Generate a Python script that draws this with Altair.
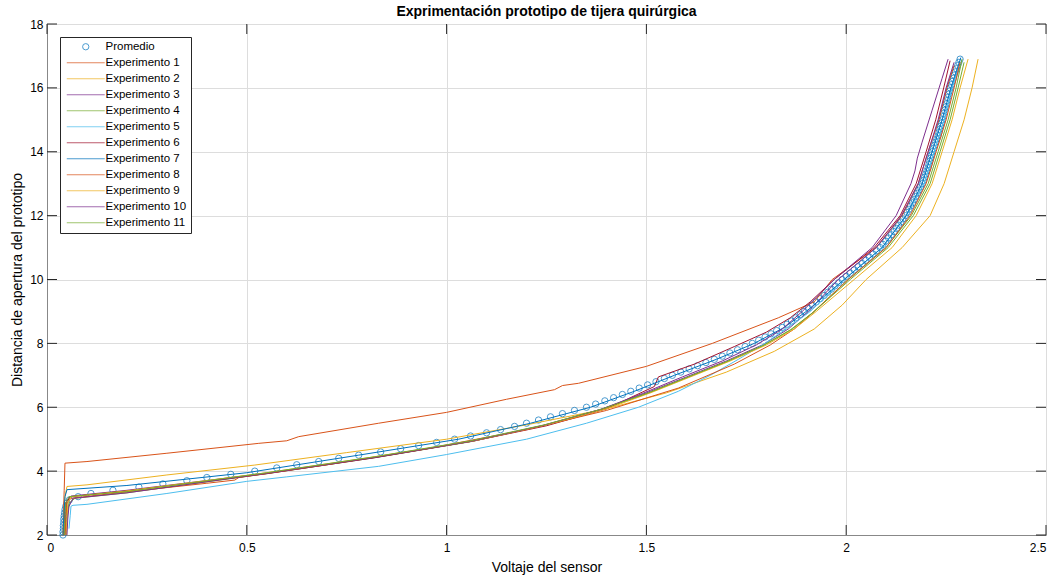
import altair as alt
import pandas as pd

# ---------------- data ----------------
series_names = ["Promedio"] + [f"Experimento {i}" for i in range(1, 12)]
series_colors = ["#0072BD", "#D95319", "#EDB120", "#7E2F8E", "#77AC30", "#4DBEEE",
                 "#A2142F", "#0072BD", "#D95319", "#EDB120", "#7E2F8E", "#77AC30"]

x_ticks = [0, 0.5, 1, 1.5, 2, 2.5]
y_ticks = [2, 4, 6, 8, 10, 12, 14, 16, 18]

prom_d = [2.0, 2.1, 2.2, 2.3, 2.4, 2.5, 2.6, 2.7, 2.8, 2.9,
          3.0, 3.1, 3.2, 3.3, 3.4, 3.5, 3.6, 3.7, 3.8, 3.9,
          4.0, 4.1, 4.2, 4.3, 4.4, 4.5, 4.6, 4.7, 4.8, 4.9,
          5.0, 5.1, 5.2, 5.3, 5.4, 5.5, 5.6, 5.7, 5.8, 5.9,
          6.0, 6.1, 6.2, 6.3, 6.4, 6.5, 6.6, 6.7, 6.8, 6.9,
          7.0, 7.1, 7.2, 7.3, 7.4, 7.5, 7.6, 7.7, 7.8, 7.9,
          8.0, 8.1, 8.2, 8.3, 8.4, 8.5, 8.6, 8.7, 8.8, 8.9,
          9.0, 9.1, 9.2, 9.3, 9.4, 9.5, 9.6, 9.7, 9.8, 9.9,
          10.0, 10.1, 10.2, 10.3, 10.4, 10.5, 10.6, 10.7, 10.8, 10.9,
          11.0, 11.1, 11.2, 11.3, 11.4, 11.5, 11.6, 11.7, 11.8, 11.9,
          12.0, 12.1, 12.2, 12.3, 12.4, 12.5, 12.6, 12.7, 12.8, 12.9,
          13.0, 13.1, 13.2, 13.3, 13.4, 13.5, 13.6, 13.7, 13.8, 13.9,
          14.0, 14.1, 14.2, 14.3, 14.4, 14.5, 14.6, 14.7, 14.8, 14.9,
          15.0, 15.1, 15.2, 15.3, 15.4, 15.5, 15.6, 15.7, 15.8, 15.9,
          16.0, 16.1, 16.2, 16.3, 16.4, 16.5, 16.6, 16.7, 16.8, 16.9]
prom_v = [0.040, 0.040, 0.041, 0.041, 0.042, 0.042, 0.043, 0.044, 0.045, 0.047,
          0.050, 0.056, 0.078, 0.110, 0.165, 0.230, 0.290, 0.350, 0.400, 0.460,
          0.520, 0.575, 0.625, 0.680, 0.730, 0.780, 0.835, 0.885, 0.930, 0.975,
          1.020, 1.060, 1.100, 1.135, 1.170, 1.200, 1.230, 1.260, 1.290, 1.320,
          1.350, 1.373, 1.396, 1.418, 1.440, 1.461, 1.482, 1.503, 1.524, 1.545,
          1.565, 1.586, 1.607, 1.628, 1.649, 1.670, 1.690, 1.709, 1.728, 1.747,
          1.765, 1.781, 1.797, 1.812, 1.826, 1.840, 1.852, 1.863, 1.874, 1.885,
          1.895, 1.905, 1.915, 1.925, 1.935, 1.945, 1.954, 1.963, 1.972, 1.981,
          1.990, 2.000, 2.010, 2.020, 2.030, 2.040, 2.049, 2.058, 2.067, 2.076,
          2.085, 2.092, 2.099, 2.106, 2.113, 2.120, 2.126, 2.131, 2.137, 2.142,
          2.148, 2.152, 2.157, 2.161, 2.166, 2.170, 2.174, 2.178, 2.182, 2.186,
          2.190, 2.193, 2.196, 2.199, 2.202, 2.205, 2.207, 2.209, 2.211, 2.213,
          2.215, 2.218, 2.221, 2.224, 2.227, 2.230, 2.232, 2.234, 2.236, 2.238,
          2.240, 2.242, 2.244, 2.246, 2.248, 2.250, 2.252, 2.254, 2.256, 2.258,
          2.260, 2.263, 2.265, 2.268, 2.270, 2.273, 2.276, 2.279, 2.282, 2.285]

exp1_v = [0.040, 0.041, 0.043, 0.045, 0.10, 0.30, 0.53, 0.60, 0.63, 0.83, 1.00, 1.15, 1.27, 1.29,
          1.33, 1.50, 1.665, 1.83, 1.92, 1.965, 2.075, 2.14, 2.18, 2.205, 2.232, 2.252, 2.27]
exp1_d = [2.0, 2.6, 3.4, 4.25, 4.3, 4.56, 4.87, 4.95, 5.08, 5.5, 5.84, 6.25, 6.55, 6.68,
          6.75, 7.28, 8.0, 8.8, 9.3, 10.0, 11.0, 12.0, 13.0, 14.0, 15.0, 16.0, 16.7]

exp2_v = [0.040, 0.042, 0.045, 0.05, 0.10, 0.30, 0.52, 0.75, 1.00, 1.20, 1.40, 1.55, 1.70, 1.82,
          1.92, 1.99, 2.05, 2.14, 2.21, 2.245, 2.27, 2.295, 2.315, 2.33]
exp2_d = [2.0, 2.6, 3.2, 3.52, 3.57, 3.88, 4.19, 4.58, 5.0, 5.45, 5.95, 6.45, 7.1, 7.75,
          8.45, 9.2, 10.0, 11.0, 12.0, 13.0, 14.0, 15.0, 16.0, 16.9]

exp3_v = [0.045, 0.047, 0.05, 0.06, 0.2, 0.56, 0.83, 1.07, 1.25, 1.39, 1.50, 1.60, 1.70, 1.79,
          1.855, 1.905, 1.98, 2.075, 2.138, 2.18, 2.205, 2.23, 2.25, 2.27]
exp3_d = [2.0, 2.7, 3.1, 3.22, 3.4, 3.95, 4.45, 4.95, 5.45, 5.95, 6.45, 6.95, 7.45, 7.95,
          8.45, 9.0, 10.0, 11.0, 12.0, 13.0, 14.0, 15.0, 16.0, 16.8]

exp4_v = [0.048, 0.05, 0.055, 0.07, 0.2, 0.55, 0.82, 1.06, 1.24, 1.385, 1.50, 1.60, 1.70, 1.79,
          1.86, 1.915, 2.005, 2.10, 2.163, 2.205, 2.23, 2.255, 2.275, 2.29]
exp4_d = [2.0, 2.5, 3.0, 3.15, 3.32, 3.92, 4.42, 4.92, 5.42, 5.92, 6.42, 6.92, 7.42, 7.92,
          8.42, 8.95, 10.0, 11.0, 12.0, 13.0, 14.0, 15.0, 16.0, 16.9]

exp5_v = [0.055, 0.058, 0.06, 0.065, 0.10, 0.30, 0.50, 0.60, 0.83, 1.00, 1.20, 1.35, 1.48, 1.58,
          1.66, 1.73, 1.79, 1.85, 1.91, 1.995, 2.09, 2.15, 2.195, 2.22, 2.245, 2.265, 2.285]
exp5_d = [2.2, 2.6, 2.9, 2.93, 2.96, 3.3, 3.68, 3.82, 4.15, 4.52, 5.0, 5.5, 6.0, 6.5,
          7.0, 7.5, 7.95, 8.45, 9.0, 10.0, 11.0, 12.0, 13.0, 14.0, 15.0, 16.0, 16.8]

exp6_v = [0.042, 0.044, 0.046, 0.06, 0.2, 0.55, 0.82, 1.07, 1.25, 1.40, 1.52, 1.53, 1.62, 1.72,
          1.80, 1.86, 1.91, 1.97, 2.07, 2.135, 2.175, 2.2, 2.224, 2.244, 2.26]
exp6_d = [2.0, 2.6, 3.0, 3.2, 3.38, 3.92, 4.42, 4.95, 5.42, 5.95, 6.65, 6.95, 7.35, 7.9,
          8.35, 8.8, 9.3, 10.0, 11.0, 12.0, 13.0, 14.0, 15.0, 16.0, 16.85]

exp7_v = [0.040, 0.042, 0.045, 0.05, 0.2, 0.5, 0.78, 1.03, 1.21, 1.36, 1.47, 1.57, 1.675, 1.77,
          1.845, 1.90, 1.995, 2.09, 2.15, 2.19, 2.215, 2.24, 2.262, 2.287]
exp7_d = [2.0, 2.6, 3.2, 3.42, 3.55, 3.95, 4.5, 5.0, 5.5, 6.0, 6.5, 7.0, 7.5, 8.0,
          8.5, 9.0, 10.0, 11.0, 12.0, 13.0, 14.0, 15.0, 16.0, 16.95]

exp8_v = [0.045, 0.048, 0.05, 0.06, 0.2, 0.4, 0.47, 0.48, 0.7, 0.95, 1.2, 1.4, 1.58, 1.72,
          1.81, 1.87, 1.92, 2.005, 2.10, 2.16, 2.20, 2.225, 2.25, 2.27, 2.285]
exp8_d = [2.0, 2.6, 3.0, 3.15, 3.35, 3.62, 3.72, 3.8, 4.2, 4.7, 5.3, 5.9, 6.6, 7.35,
          7.95, 8.45, 9.0, 10.0, 11.0, 12.0, 13.0, 14.0, 15.0, 16.0, 16.8]

exp9_v = [0.048, 0.05, 0.052, 0.06, 0.2, 0.55, 0.82, 1.07, 1.25, 1.40, 1.51, 1.61, 1.71, 1.80,
          1.87, 1.925, 2.02, 2.115, 2.175, 2.215, 2.24, 2.265, 2.285, 2.305]
exp9_d = [2.0, 2.5, 3.0, 3.2, 3.38, 3.95, 4.45, 4.95, 5.45, 5.95, 6.45, 6.95, 7.45, 7.95,
          8.45, 9.0, 10.0, 11.0, 12.0, 13.0, 14.0, 15.0, 16.0, 16.9]

exp10_v = [0.05, 0.052, 0.055, 0.065, 0.2, 0.55, 0.82, 1.06, 1.24, 1.385, 1.49, 1.59, 1.69, 1.775,
           1.84, 1.89, 1.97, 2.065, 2.125, 2.162, 2.172, 2.178, 2.19, 2.215, 2.24, 2.255]
exp10_d = [2.0, 2.5, 2.9, 3.15, 3.32, 3.93, 4.43, 4.93, 5.43, 5.93, 6.43, 6.95, 7.45, 7.95,
           8.45, 9.0, 10.0, 11.0, 12.0, 13.0, 13.4, 13.8, 14.3, 15.3, 16.3, 16.9]

exp11_v = [0.043, 0.045, 0.047, 0.055, 0.2, 0.55, 0.82, 1.06, 1.245, 1.39, 1.505, 1.605, 1.705, 1.795,
           1.865, 1.92, 2.01, 2.105, 2.168, 2.21, 2.235, 2.26, 2.28, 2.295]
exp11_d = [2.0, 2.6, 3.0, 3.2, 3.36, 3.95, 4.45, 4.95, 5.45, 5.95, 6.45, 6.95, 7.45, 7.95,
           8.45, 9.0, 10.0, 11.0, 12.0, 13.0, 14.0, 15.0, 16.0, 16.8]

# ---------------- tables ----------------
exp_lists = [(exp1_v, exp1_d), (exp2_v, exp2_d), (exp3_v, exp3_d), (exp4_v, exp4_d),
             (exp5_v, exp5_d), (exp6_v, exp6_d), (exp7_v, exp7_d), (exp8_v, exp8_d),
             (exp9_v, exp9_d), (exp10_v, exp10_d), (exp11_v, exp11_d)]
rows = []
for k, (vs, ds) in enumerate(exp_lists):
    for i, (v, d) in enumerate(zip(vs, ds)):
        rows.append({"serie": series_names[k + 1], "v": v, "d": d, "idx": i})
df_lines = pd.DataFrame(rows)
df_prom = pd.DataFrame({"serie": "Promedio", "v": prom_v, "d": prom_d})
df_xt = pd.DataFrame({"t": x_ticks})
df_yt = pd.DataFrame({"t": y_ticks})

line_path = "M-6,0H6"
shape_range = ["circle"] + [line_path] * 11

TXT = "#262626"
FONT = "Liberation Sans"

xscale = alt.Scale(domain=[0, 2.5], nice=False, zero=False)
yscale = alt.Scale(domain=[2, 18], nice=False, zero=False)

legend = alt.Legend(
    title=None, orient="none", legendX=13, legendY=13,
    strokeColor=TXT, fillColor="white", padding=4, cornerRadius=0,
    labelFontSize=11.5, labelColor="black", labelFont=FONT,
    symbolStrokeWidth=1, symbolSize=40, symbolOffset=16, labelOffset=14,
    rowPadding=3, labelLimit=200,
)
color = alt.Color("serie:N", scale=alt.Scale(domain=series_names, range=series_colors), legend=legend)
shape = alt.Shape("serie:N", scale=alt.Scale(domain=series_names, range=shape_range), legend=legend)

xenc = alt.X("v:Q", scale=xscale,
             axis=alt.Axis(values=x_ticks, format="~g", title="Voltaje del sensor",
                           titleFontWeight="normal", titleFontSize=14, labelFontSize=12,
                           grid=True, tickSize=0, labelPadding=7, titlePadding=7))
yenc = alt.Y("d:Q", scale=yscale,
             axis=alt.Axis(values=y_ticks, format="~g", title="Distancia de apertura del prototipo",
                           titleFontWeight="normal", titleFontSize=14, labelFontSize=12,
                           grid=True, tickSize=0, labelPadding=4, titlePadding=5))

points = alt.Chart(df_prom).mark_point(filled=False, size=40, strokeWidth=1).encode(
    x=xenc, y=yenc, color=color, shape=shape)

lines = alt.Chart(df_lines).mark_line(strokeWidth=1).encode(
    x=alt.X("v:Q", scale=xscale), y=alt.Y("d:Q", scale=yscale),
    color=color, detail="serie:N", order="idx:Q")

tick_b = alt.Chart(df_xt).mark_rule(color=TXT, y2Offset=-10).encode(
    x=alt.X("t:Q", scale=xscale), y=alt.datum(2), y2=alt.datum(2))
tick_t = alt.Chart(df_xt).mark_rule(color=TXT, y2Offset=10).encode(
    x=alt.X("t:Q", scale=xscale), y=alt.datum(18), y2=alt.datum(18))
tick_l = alt.Chart(df_yt).mark_rule(color=TXT, x2Offset=10).encode(
    y=alt.Y("t:Q", scale=yscale), x=alt.datum(0), x2=alt.datum(0))
tick_r = alt.Chart(df_yt).mark_rule(color=TXT, x2Offset=-10).encode(
    y=alt.Y("t:Q", scale=yscale), x=alt.datum(2.5), x2=alt.datum(2.5))

chart = alt.layer(points, lines, tick_b, tick_t, tick_l, tick_r).properties(
    width=999, height=511,
    title=alt.TitleParams("Exprimentación prototipo de tijera quirúrgica",
                          fontSize=14, fontWeight="bold", font=FONT, color="black",
                          anchor="middle", offset=-1),
    autosize=alt.AutoSizeParams(type="none"),
    padding={"left": 47, "top": 24, "right": 14, "bottom": 46},
).configure_view(stroke=TXT, strokeWidth=1).configure_axis(
    domain=False, gridColor="#dfdfdf", gridWidth=1,
    labelFont=FONT, labelColor=TXT,
    titleFont=FONT, titleColor=TXT, titleFontWeight="normal",
).configure(background="white")

chart.save("out.html", embed_options={"renderer": "svg", "actions": False})
